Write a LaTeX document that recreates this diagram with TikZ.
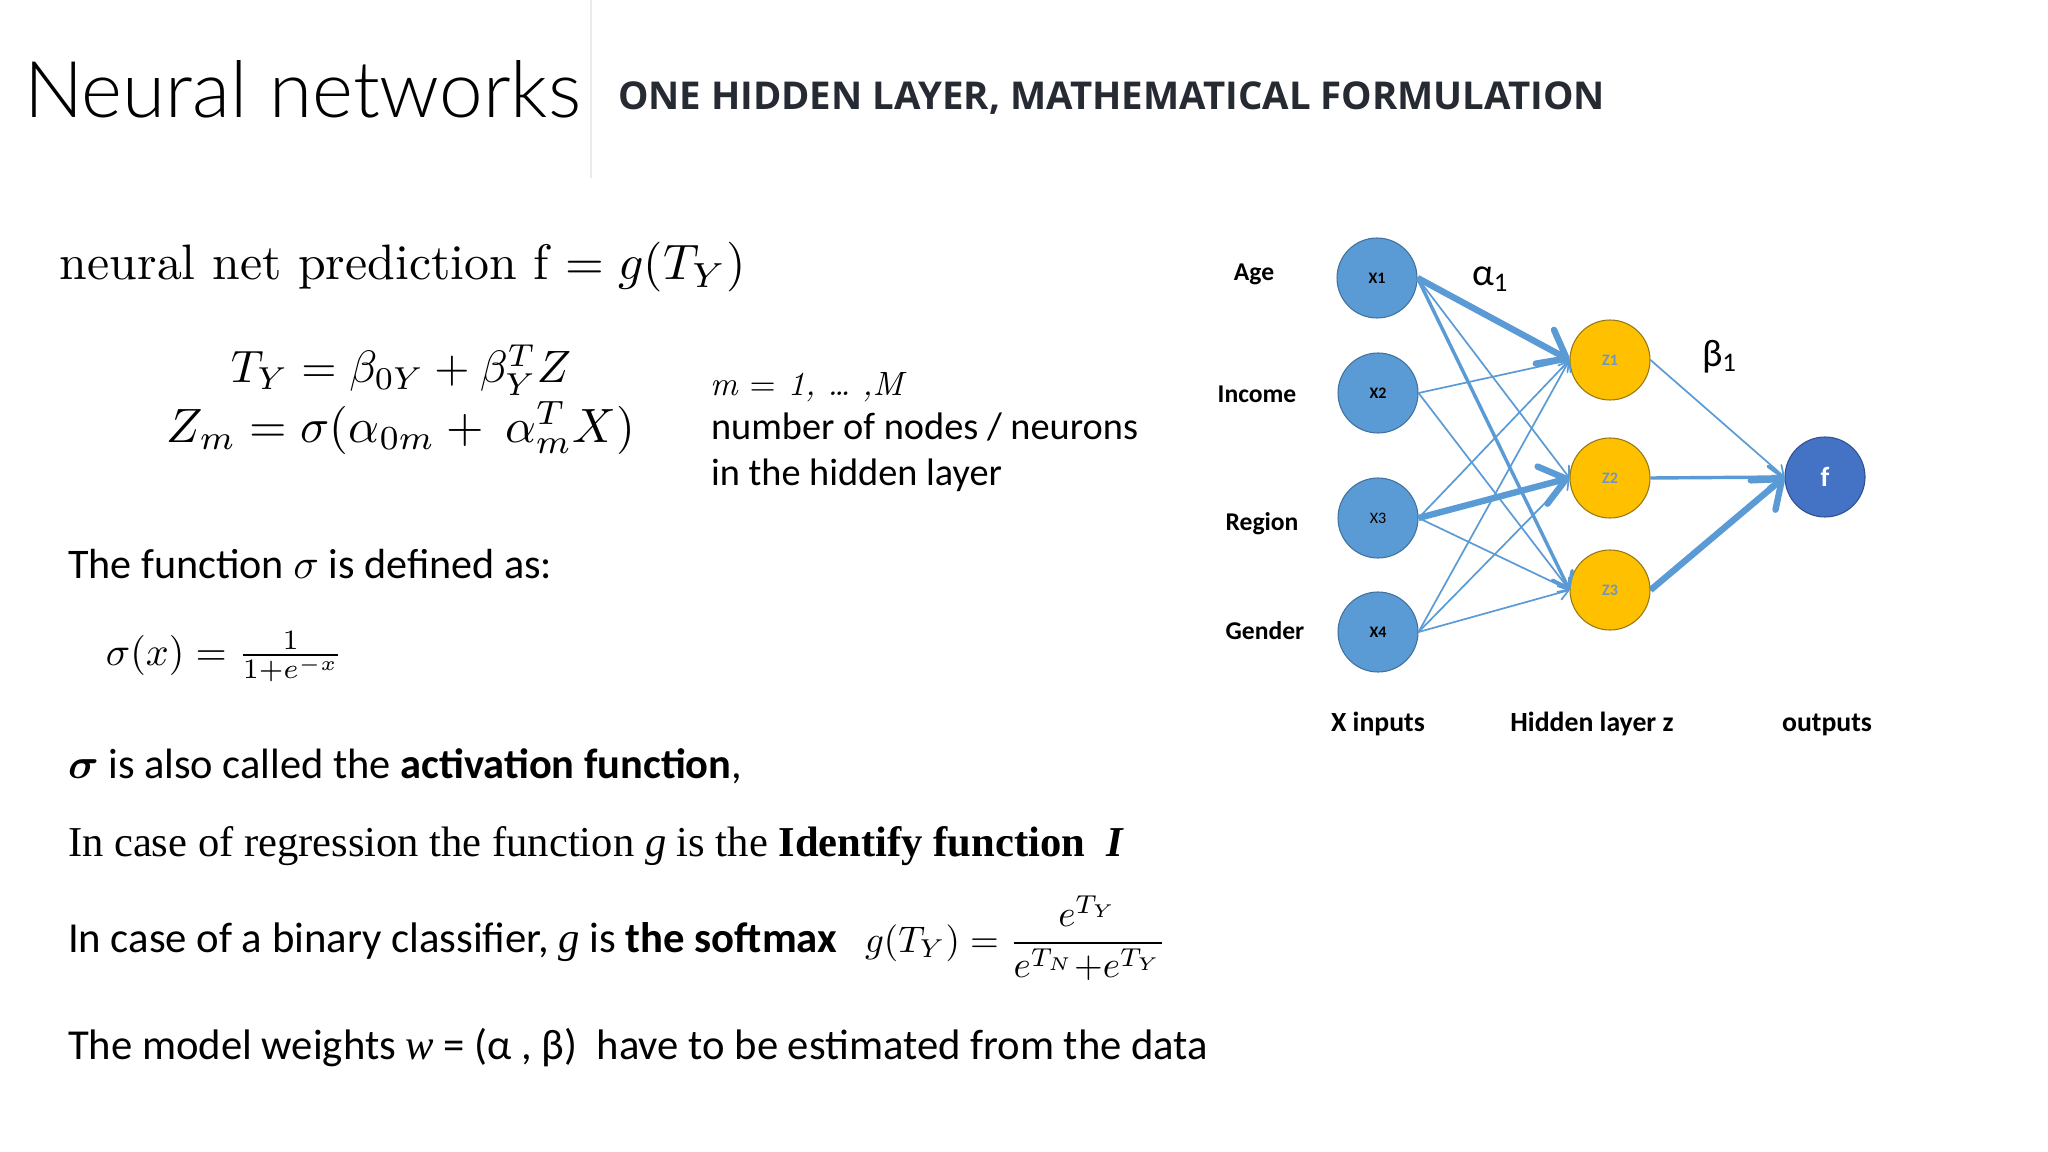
\documentclass[tikz,border=0pt]{standalone}
\usepackage{amsmath}
\usepackage{fontspec}
\usepackage{graphicx}
\usetikzlibrary{arrows.meta}
\setmainfont{Carlito}
\newfontfamily\titlefont{Lato Light}
\newfontfamily\subfont{Open Sans}
\newfontfamily\lmfont{Latin Modern Roman}
\newfontfamily\tnr{Liberation Serif}
\newlength\pxu
\setlength\pxu{0.46875pt}
\definecolor{edgeblue}{RGB}{91,155,213}
\definecolor{inblue}{RGB}{91,155,213}
\definecolor{inborder}{RGB}{65,113,156}
\definecolor{gold}{RGB}{255,192,0}
\definecolor{goldborder}{RGB}{150,120,20}
\definecolor{zlabel}{RGB}{112,150,190}
\definecolor{fblue}{RGB}{68,114,196}
\definecolor{fborder}{RGB}{47,82,143}
\definecolor{subcol}{RGB}{38,42,51}
\begin{document}
\begin{tikzpicture}[x=0.46875pt,y=-0.46875pt,
  txt/.style={anchor=base west, inner sep=0pt, outer sep=0pt},
  neuron/.style={circle, minimum size=37.5pt, inner sep=0pt, line width=0.5pt},
  inp/.style={neuron, fill=inblue, draw=inborder, font=\fontsize{7.5}{9}\selectfont\bfseries},
  hid/.style={neuron, fill=gold, draw=goldborder, text=zlabel, font=\fontsize{7.5}{9}\selectfont\bfseries},
  outn/.style={neuron, fill=fblue, draw=fborder, text=white, font=\fontsize{13}{15}\selectfont\bfseries},
  lab/.style={anchor=base, inner sep=0pt, font=\fontsize{12}{14}\selectfont\bfseries},
  blab/.style={anchor=base, inner sep=0pt, font=\fontsize{13}{15}\selectfont\bfseries},
  thinE/.style={draw=edgeblue, line width=0.8pt, -{Straight Barb[length=2pt 3, width=3pt 4.5, round]}},
  midE/.style={draw=edgeblue, line width=1.6pt, -{Straight Barb[length=2pt 3, width=3pt 4.5, round]}},
  thickE/.style={draw=edgeblue, line width=3pt, -{Straight Barb[length=2pt 3.2, width=3pt 5, round]}}
]
\useasboundingbox[fill=white] (0,0) rectangle (2048,1152);
% divider
\draw[black!8, line width=0.6pt] (591,0) -- (591,178);
% header
\node[txt] (title) at (24,118) {\resizebox{557\pxu}{!}{\titlefont Neural networks}};
\node[txt] (subtitle) at (618,110) {\resizebox{987\pxu}{!}{\subfont\bfseries\color{subcol}ONE HIDDEN LAYER, MATHEMATICAL FORMULATION}};
% formulas
\node[txt] (pred) at (60,280) {\resizebox{686\pxu}{!}{\lmfont neural net prediction f\ $=g(T_Y)$}};
\node[anchor=base, inner sep=0pt, outer sep=0pt, align=center, font=\fontsize{10}{27.66pt}\selectfont] (eqs) at (401,442)
  {\resizebox{340\pxu}{!}{$T_Y=\beta_{0Y}+\beta_Y^TZ$}\\
   \resizebox{468\pxu}{!}{$Z_m=\sigma(\alpha_{0m}+\ \alpha_m^TX)$}};
\node[txt] (mrange) at (710,395) {\resizebox{193\pxu}{!}{\lmfont\itshape m {\upshape=} 1, \dots\ ,M}};
\node[txt] (nnodes) at (711,439) {\resizebox{427\pxu}{!}{number of nodes / neurons}};
\node[txt] (inlayer) at (711,485) {\resizebox{291\pxu}{!}{in the hidden layer}};
\node[txt] (sigdef) at (68,578) {\resizebox{484\pxu}{!}{The function $\sigma$ is defined as:}};
\node[txt] (sigeq) at (106,665) {\resizebox{237\pxu}{!}{$\sigma(x)=\frac{1}{1+e^{-x}}$}};
\node[txt] (actfun) at (68,778) {\resizebox{674\pxu}{!}{{\boldmath$\sigma$} is also called the \textbf{activation function},}};
\node[txt] (regr) at (68,856) {\resizebox{1056\pxu}{!}{\tnr In case of regression the function \textit{g} is the \textbf{Identify function\ \ \textit{I}}}};
\node[txt] (bincl) at (68,952) {\resizebox{769\pxu}{!}{In case of a binary classifier, {\tnr\itshape g} is \textbf{the softmax}}};
\node[txt] (softmax) at (865,952) {\resizebox{301\pxu}{!}{$g(T_Y)=\dfrac{e^{T_Y}}{e^{T_N}{+}e^{T_Y}}$}};
\node[txt] (weights) at (68,1059) {\resizebox{1140\pxu}{!}{The model weights {\tnr\itshape w} = (α , β)\ \ have to be estimated from the data}};
% network nodes
\node[inp] (x1) at (1377,278) {X1};
\node[inp] (x2) at (1378,393) {X2};
\node[inp, font=\fontsize{7.5}{9}\selectfont] (x3) at (1378,518) {X3};
\node[inp] (x4) at (1378,632) {X4};
\node[hid] (z1) at (1610,360) {Z1};
\node[hid] (z2) at (1610,478) {Z2};
\node[hid] (z3) at (1610,590) {Z3};
\node[outn] (f) at (1825,477) {f};
% labels
\node[lab] (lage) at (1254,281) {Age};
\node[lab] (linc) at (1257,402) {Income};
\node[lab] (lreg) at (1262,530) {Region};
\node[lab] (lgen) at (1265,639) {Gender};
\node[blab] (lxin) at (1378,731) {X inputs};
\node[blab] (lhid) at (1592,731) {Hidden layer z};
\node[blab] (lout) at (1827,731) {outputs};
\node[txt, font=\fontsize{18}{20}\selectfont] (alpha) at (1472,286) {α\textsubscript{1}};
\node[txt, font=\fontsize{18}{20}\selectfont] (beta) at (1702,366) {β\textsubscript{1}};
% edges
\draw[thickE] (x1.east) -- (z1.west);
\draw[thinE] (x1.east) -- (z2.west);
\draw[midE] (x1.east) -- (z3.west);
\draw[thinE] (x2.east) -- (z1.west);
\draw[thinE] (x2.east) -- (z3.west);
\draw[thinE] (x3.east) -- (z1.west);
\draw[thickE] (x3.east) -- (z2.west);
\draw[thinE] (x3.east) -- (z3.west);
\draw[thinE] (x4.east) -- (z1.west);
\draw[thinE] (x4.east) -- (z2.west);
\draw[thinE] (x4.east) -- (z3.west);
\draw[thinE] (z1.east) -- (f.west);
\draw[midE] (z2.east) -- (f.west);
\draw[thickE] (z3.east) -- (f.west);
\end{tikzpicture}
\end{document}
